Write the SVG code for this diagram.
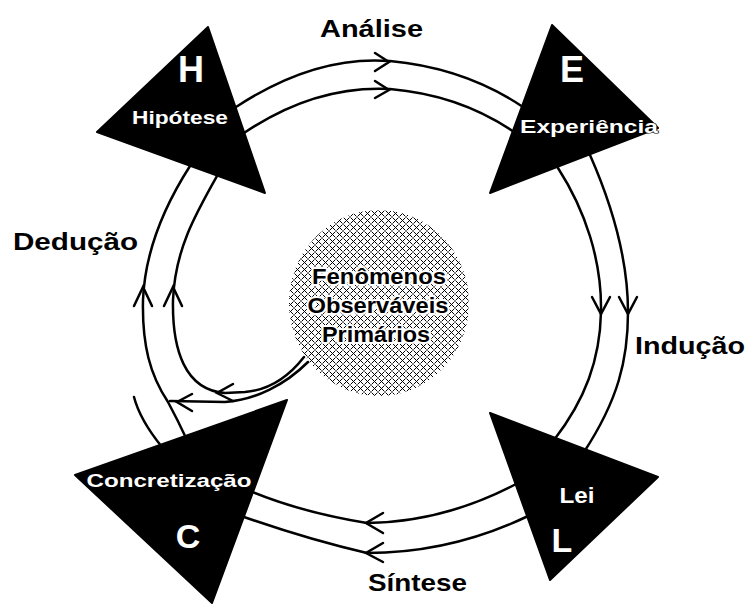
<svg xmlns="http://www.w3.org/2000/svg" width="747" height="607" viewBox="0 0 747 607">
<defs>
<pattern id="hatch" width="7" height="7" patternUnits="userSpaceOnUse">
<rect width="7" height="7" fill="#fff"/>
<path d="M0.5,0.5 L6.5,6.5 M6.5,0.5 L0.5,6.5" stroke="#000" stroke-width="1" fill="none"/>
</pattern>
</defs>
<style>
.ln{fill:none;stroke:#000;stroke-width:2.5;stroke-linecap:round;stroke-linejoin:round}
.ah{fill:none;stroke:#000;stroke-width:2.5;stroke-linecap:round;stroke-linejoin:miter}
.tri{fill:#000;stroke:#000;stroke-width:2;stroke-linejoin:round}
.lab{font-family:"Liberation Sans",Arial,sans-serif;font-weight:bold;fill:#000}
.wt{font-family:"Liberation Sans",Arial,sans-serif;font-weight:bold;fill:#fff;stroke:#000;stroke-width:1.2;paint-order:stroke}
.ct{font-family:"Liberation Sans",Arial,sans-serif;font-weight:bold;fill:#000;stroke:#fff;stroke-width:4;paint-order:stroke;stroke-linejoin:round}
</style>
<rect width="747" height="607" fill="#fff"/>

<g id="center">
<ellipse cx="379" cy="303" rx="90" ry="93" fill="url(#hatch)"/>
<text class="ct" x="379" y="284" font-size="22" text-anchor="middle" textLength="134" lengthAdjust="spacingAndGlyphs">Fenômenos</text>
<text class="ct" x="378" y="313" font-size="22" text-anchor="middle" textLength="141" lengthAdjust="spacingAndGlyphs">Observáveis</text>
<text class="ct" x="376" y="342" font-size="22" text-anchor="middle" textLength="108" lengthAdjust="spacingAndGlyphs">Primários</text>
</g>

<g id="connectors">
<path class="ln" d="M236,107 Q315,55 390,61 Q465,68 523,107"/>
<path class="ah" d="M375,53 L389,62 L375,71"/>
<path class="ln" d="M244,133 Q315,85 390,89 Q460,95 514,132"/>
<path class="ah" d="M375,81 L389,90 L375,98"/>

<path class="ln" d="M558,168 C585,210 602,260 601,312 C600,360 585,400 554,440"/>
<path class="ah" d="M592,297 L601,314 L610,297"/>
<path class="ln" d="M590,155 C612,205 628,260 628,312 C628,360 618,400 584,452"/>
<path class="ah" d="M619,297 L628,314 L637,297"/>

<path class="ln" d="M518,483 Q445,522 367,523 Q300,512 250,491"/>
<path class="ah" d="M383,513 L366,523 L383,533"/>
<path class="ln" d="M526,517 Q450,553 367,553 Q310,540 244,517"/>
<path class="ah" d="M383,543 L366,553 L383,562"/>

<path class="ln" d="M190,166 C165,205 145,250 143,300 C142,345 150,375 168,402 C175,415 180,425 187,440"/>
<path class="ah" d="M134,306 L143,287 L152,306"/>
<path class="ln" d="M217,176 C195,215 175,250 173,300 C172,350 185,390 225,393 L245,392 C270,390 290,375 304,357"/>
<path class="ah" d="M164,306 L173,287 L182,306"/>
<path class="ah" d="M233,384 L217,393 L233,401"/>
<path class="ln" d="M308,362 C285,385 255,400 225,402 L170,401"/>
<path class="ah" d="M192,394 L177,402 L192,411"/>
<path class="ln" d="M134,397 Q140,420 162,447"/>
</g>

<g id="node-H">
<polygon class="tri" points="208,27 97,132 265,193"/>
<text class="wt" x="191" y="82" font-size="36" text-anchor="middle">H</text>
<text class="wt" x="180" y="124" font-size="19" text-anchor="middle" textLength="96" lengthAdjust="spacingAndGlyphs">Hipótese</text>
</g>
<g id="node-E">
<polygon class="tri" points="552,25 658,128 490,193"/>
<text class="wt" x="572" y="82" font-size="36" text-anchor="middle">E</text>
<text class="wt" x="589" y="133" font-size="19" text-anchor="middle" textLength="138" lengthAdjust="spacingAndGlyphs">Experiência</text>
</g>
<g id="node-C">
<polygon class="tri" points="287,400 75,475 212,603"/>
<text class="wt" x="169" y="487" font-size="19" text-anchor="middle" textLength="165" lengthAdjust="spacingAndGlyphs">Concretização</text>
<text class="wt" x="188" y="548" font-size="34" text-anchor="middle">C</text>
</g>
<g id="node-L">
<polygon class="tri" points="490,413 658,477 550,580"/>
<text class="wt" x="577" y="503" font-size="22" text-anchor="middle" textLength="35" lengthAdjust="spacingAndGlyphs">Lei</text>
<text class="wt" x="562" y="552" font-size="34" text-anchor="middle">L</text>
</g>

<g id="labels">
<text class="lab" x="320" y="37" font-size="23" textLength="103" lengthAdjust="spacingAndGlyphs">Análise</text>
<text class="lab" x="13" y="250" font-size="24" textLength="125" lengthAdjust="spacingAndGlyphs">Dedução</text>
<text class="lab" x="635" y="354" font-size="24" textLength="110" lengthAdjust="spacingAndGlyphs">Indução</text>
<text class="lab" x="368" y="591" font-size="24" textLength="99" lengthAdjust="spacingAndGlyphs">Síntese</text>
</g>
</svg>
